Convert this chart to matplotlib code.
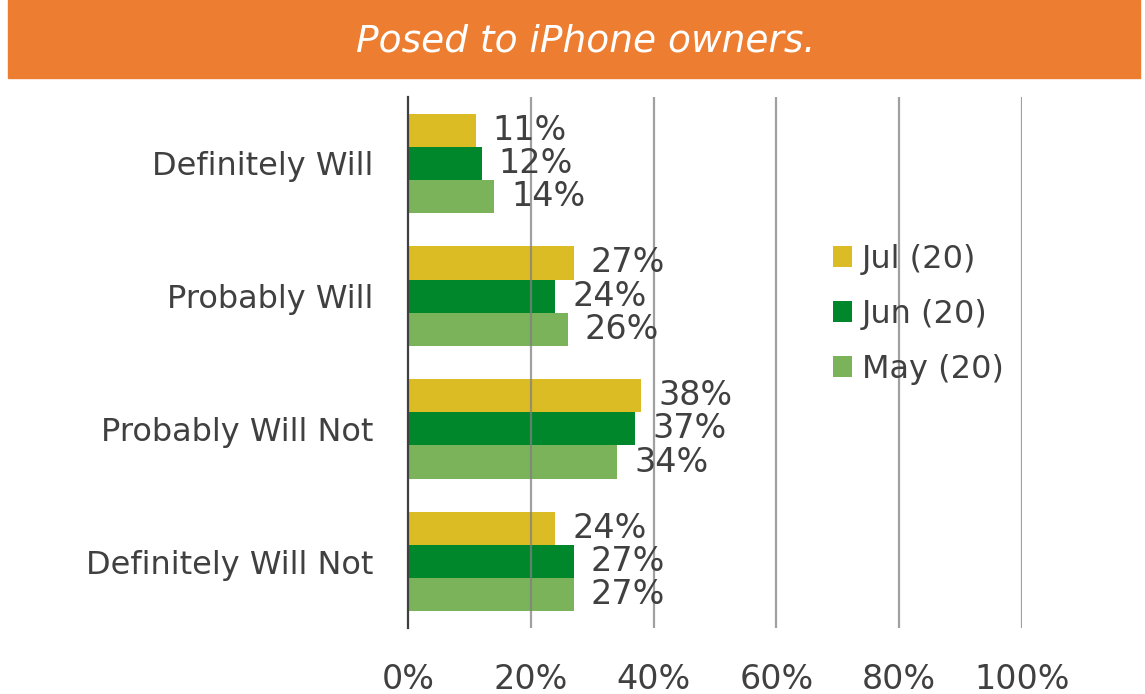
import matplotlib
matplotlib.use("Agg")
import matplotlib.pyplot as plt
import numpy as np

categories = ["Definitely Will", "Probably Will", "Probably Will Not", "Definitely Will Not"]
series_names = ["Jul (20)", "Jun (20)", "May (20)"]
jul = [11, 27, 38, 24]
jun = [12, 24, 37, 27]
may = [14, 26, 34, 27]
xticks = [0, 20, 40, 60, 80, 100]
xtick_labels = ["0%", "20%", "40%", "60%", "80%", "100%"]
title = "Posed to iPhone owners."

colors = ["#DCBC25", "#00872C", "#7BB35A"]
text_color = "#404040"

fig = plt.figure(figsize=(11.45, 6.94), dpi=100)
# orange banner
fig.patches.append(plt.Rectangle((8/1145, 1-78/694), (1140-8)/1145, 78/694,
                                 transform=fig.transFigure, color="#ED7D31", zorder=0))
fig.text(586/1145, 1-42/694, title, color="white", fontsize=27, style="italic",
         ha="center", va="center", family="DejaVu Sans")

ax = fig.add_axes([408/1145, 1-628/694, (1022-408)/1145, (628-97)/694])
y = np.arange(len(categories))
h = 0.25
offsets = [-h, 0, h]
for vals, off, c, name in zip([jul, jun, may], offsets, colors, series_names):
    bars = ax.barh(y + off, vals, height=h, color=c, label=name, zorder=1)
    for b, v in zip(bars, vals):
        ax.text(v + 2.8, b.get_y() + b.get_height()/2, f"{v}%", va="center", ha="left",
                fontsize=24, color=text_color, zorder=3)

ax.set_xlim(0, 100)
ax.set_ylim(3.5, -0.5)
ax.set_yticks(y)
ax.set_yticklabels(categories, fontsize=23, color=text_color)
ax.set_xticks(xticks)
ax.set_xticklabels(xtick_labels, fontsize=24, color=text_color)
ax.tick_params(axis="both", length=0)
ax.tick_params(axis="y", pad=25)
ax.tick_params(axis="x", pad=25)
for s in ["top", "right", "bottom"]:
    ax.spines[s].set_visible(False)
ax.spines["left"].set_color("#404040")
ax.spines["left"].set_linewidth(1.6)
ax.spines["left"].set_zorder(4)
for xv in xticks[1:]:
    ax.axvline(xv, color="#808080", lw=1.6, alpha=0.75, zorder=2)

leg = ax.legend(loc="upper left", bbox_to_anchor=((804-408)/614, (628-215)/531),
                frameon=False, fontsize=23, handlelength=0.6, handleheight=0.6,
                handletextpad=0.3, labelspacing=0.75, labelcolor=text_color)

fig.savefig("out.png", dpi=100)
